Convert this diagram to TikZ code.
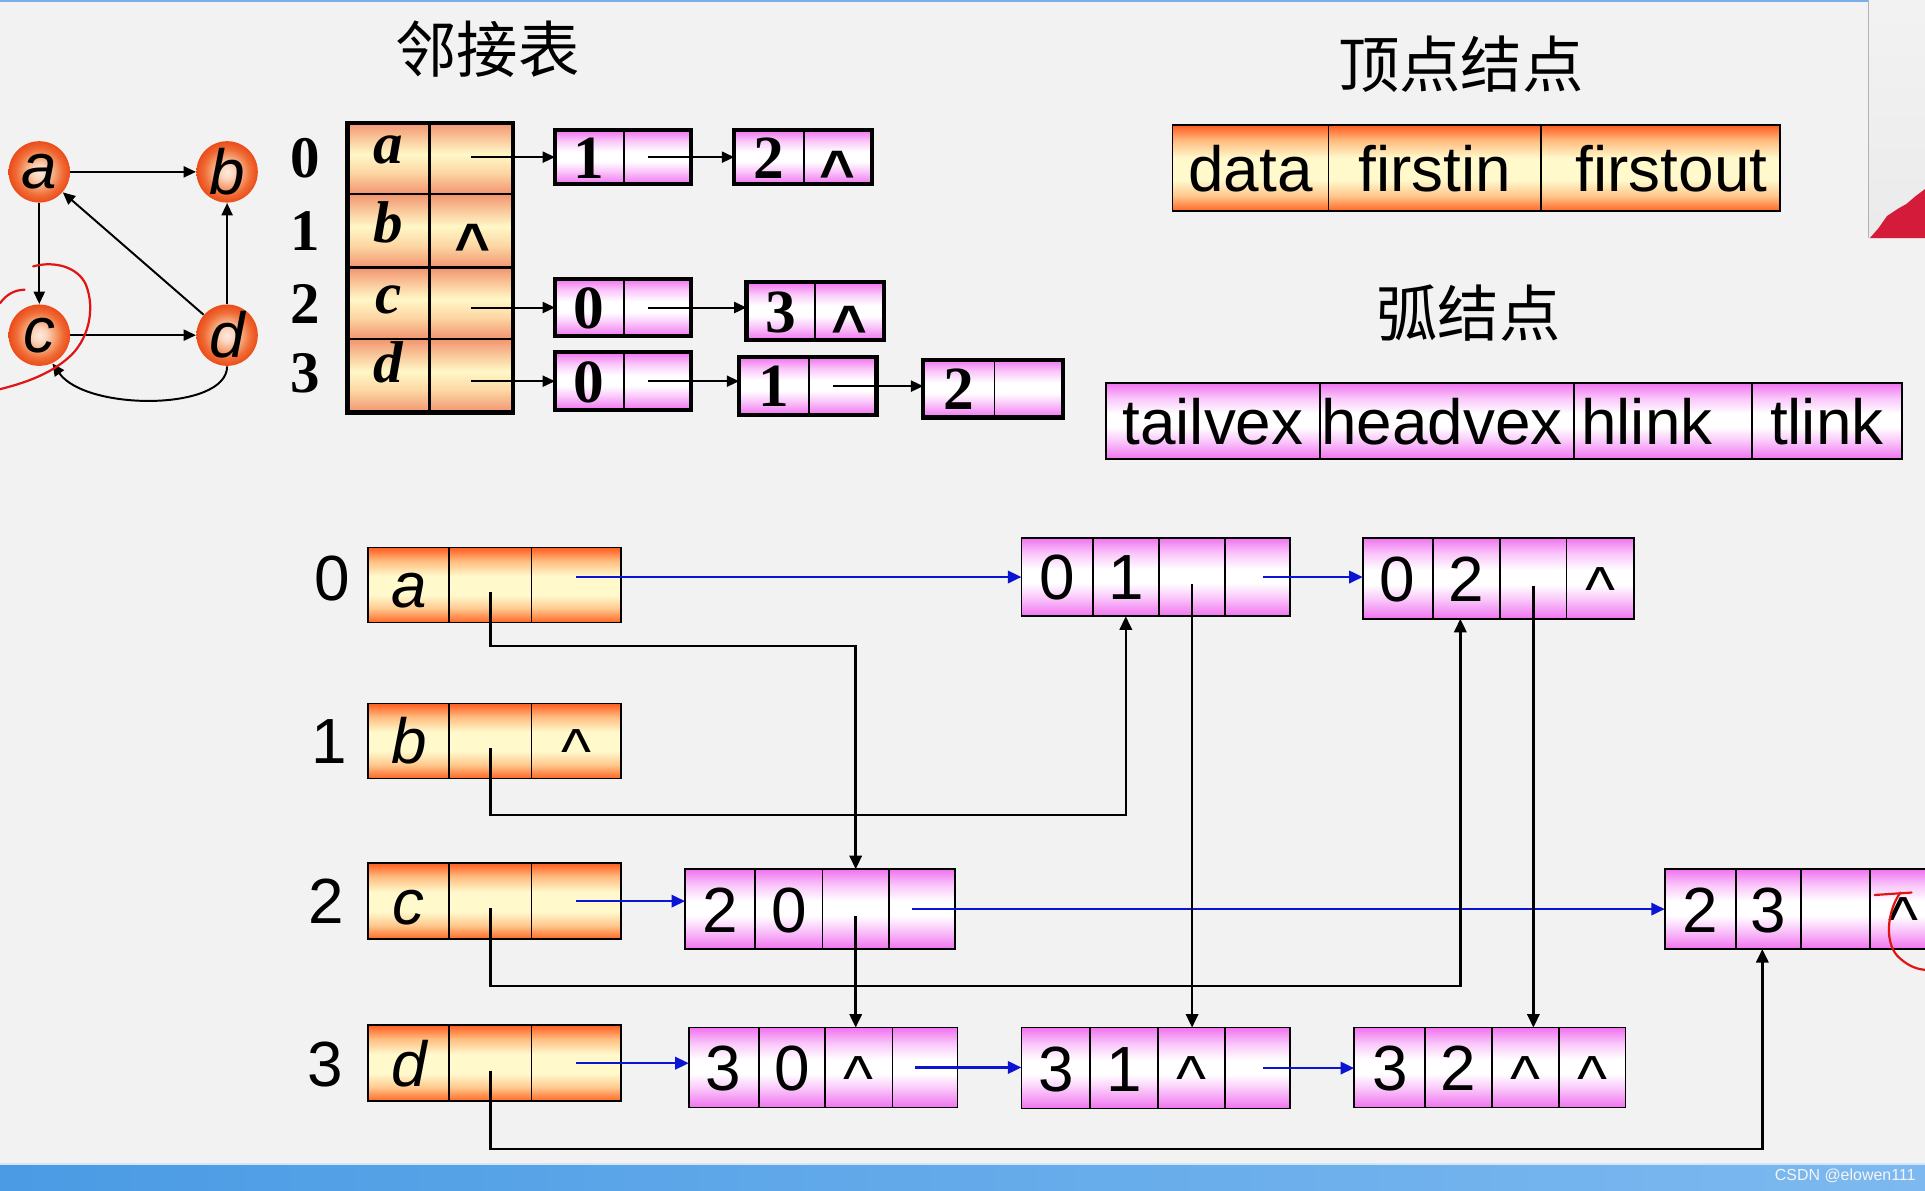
\documentclass[tikz,border=0pt]{standalone}
\usepackage{fontspec}
\setmainfont{Liberation Serif}
\newfontfamily\arialf{Liberation Sans}
\newfontfamily\cjkf{Noto Sans CJK SC}
\usetikzlibrary{arrows.meta,calc}
\definecolor{bg}{RGB}{242,242,242}
\definecolor{lnblue}{RGB}{10,20,210}
\definecolor{barblue}{RGB}{74,155,228}
\definecolor{barblue2}{RGB}{125,185,240}
\definecolor{topline}{RGB}{120,175,235}
\definecolor{camred}{RGB}{212,28,58}
\definecolor{scrib}{RGB}{225,20,20}
\pgfdeclareradialshading{vballsh}{\pgfpoint{0bp}{0bp}}{rgb(0bp)=(0.99,0.92,0.88); rgb(6bp)=(0.98,0.83,0.73); rgb(13bp)=(0.96,0.62,0.44); rgb(19bp)=(0.94,0.42,0.21); rgb(25bp)=(0.92,0.30,0.10); rgb(50bp)=(0.92,0.30,0.10)}
\pgfdeclareverticalshading{orsh}{100bp}{rgb(0bp)=(1,0.40,0.14); rgb(25bp)=(1,0.40,0.14); rgb(34bp)=(1,0.78,0.55); rgb(43bp)=(1,0.975,0.80); rgb(56bp)=(1,0.975,0.80); rgb(66bp)=(1,0.74,0.50); rgb(75bp)=(1,0.36,0.12); rgb(100bp)=(1,0.36,0.12)}
\pgfdeclareverticalshading{pksh}{100bp}{rgb(0bp)=(0.94,0.45,0.94); rgb(25bp)=(0.94,0.45,0.94); rgb(37bp)=(0.98,0.78,0.98); rgb(46bp)=(1,1,1); rgb(55bp)=(1,1,1); rgb(65bp)=(0.98,0.78,0.98); rgb(75bp)=(0.94,0.45,0.94); rgb(100bp)=(0.94,0.45,0.94)}
\pgfdeclareverticalshading{salsh}{100bp}{rgb(0bp)=(0.95,0.58,0.44); rgb(25bp)=(0.95,0.58,0.44); rgb(40bp)=(0.99,0.84,0.64); rgb(53bp)=(1,0.97,0.78); rgb(63bp)=(0.98,0.80,0.62); rgb(75bp)=(0.95,0.58,0.44); rgb(100bp)=(0.95,0.58,0.44)}
\newcommand\mkcell[7]{\node[#6, minimum width={((#4)-(#2))*0.5pt}, minimum height={((#5)-(#3))*0.5pt}] (#1) at ({((#2)+(#4))/2},{((#3)+(#5))/2}) {#7};}
\newcommand\nilb{\raisebox{-4pt}{\textasciicircum}}
\newcommand\nilt{{\arialf\fontsize{25}{25}\selectfont\raisebox{-6.5pt}{\textasciicircum}}}
\begin{document}
\begin{tikzpicture}[x=0.5pt,y=-0.5pt,
  base/.style={draw=black, line width=0.7pt, inner sep=0pt, outer sep=0pt},
  pcell/.style={base, shading=pksh,
    font=\arialf\fontsize{26}{26}\selectfont, text height=18.7pt, text depth=0pt},
  ocell/.style={base, shading=orsh,
    font=\arialf\fontsize{26}{26}\selectfont, text height=18.7pt, text depth=0pt},
  vcell/.style={ocell, font=\arialf\itshape\fontsize{26}{26}\selectfont},
  tcell/.style={base, line width=1pt, shading=salsh,
    font=\bfseries\itshape\fontsize{24}{24}\selectfont, text height=16.3pt, text depth=0pt},
  qcell/.style={base, shading=pksh,
    font=\bfseries\fontsize{25}{25}\selectfont, text height=17pt, text depth=0pt},
  gnode/.style={circle, minimum size=25pt, inner sep=0pt, shading=vballsh,
    font=\arialf\itshape\fontsize{26}{26}\selectfont},
  idx/.style={inner sep=0pt, font=\bfseries\fontsize{24}{24}\selectfont},
  lbl/.style={inner sep=0pt, font=\arialf\fontsize{26}{26}\selectfont},
  ttl/.style={inner sep=0pt, font=\cjkf\fontsize{25}{25}\selectfont},
  gar/.style={line width=0.8pt, -{Triangle[length=5pt,width=4.5pt]}},
  blk/.style={line width=1pt, -{Triangle[length=5.5pt,width=5pt]}},
  blu/.style={draw=lnblue, line width=1pt, -{Triangle[length=5.5pt,width=5pt]}},
  thick box/.style={draw=black, line width=1.7pt},
  scr/.style={draw=scrib, line width=0.9pt, line cap=round}
]
\useasboundingbox (0,0) rectangle (1568,970);
\clip (0,0) rectangle (1568,970);
\fill[bg] (0,0) rectangle (1568,970);
% screen artefacts
\fill[topline] (0,0) rectangle (1522,2);
\shade[top color=white!90!gray, bottom color=white!84!gray] (1522,0) rectangle (1568,194);
\draw[gray!60, line width=0.5pt] (1522,0) -- (1522,194);
\fill[camred] (1523,194) -- (1530,186) -- (1537,176) -- (1546,170) -- (1553,166) -- (1560,160) -- (1568,154) -- (1568,194) -- cycle;
\shade[left color=barblue, right color=barblue2] (0,948) rectangle (1568,970);
\fill[white!75!barblue] (0,947) rectangle (1568,949);
\node[inner sep=0pt, text=white!92!gray, font=\arialf\fontsize{6.5}{7}\selectfont] (wm) at (1503,958) {CSDN @elowen111};

% ---------------- titles ----------------
\node[ttl] (t1) at (397,40) {邻接表};
\node[ttl] (t2) at (1190,52) {顶点结点};
\node[ttl] (t3) at (1196,255) {弧结点};

% ---------------- graph ----------------
\node[gnode] (ga) at (32,140) {a};
\node[gnode] (gb) at (185,140) {b};
\node[gnode] (gc) at (32,273) {c};
\node[gnode] (gd) at (185,273) {d};
\draw[gar] (ga) -- (gb);
\draw[gar] (ga) -- (gc);
\draw[gar] (gd) -- (ga);
\draw[gar] (gd) -- (gb);
\draw[gar] (gc) -- (gd);
\draw[gar] (gd.south) .. controls (185,335) and (70,335) .. (gc.-65);
% red annotation
\draw[scr] (27,217) .. controls (45,212) and (64,218) .. (70,232) .. controls (78,252) and (72,278) .. (55,292) .. controls (40,305) and (20,312) .. (0,317);
\draw[scr] (0,247) .. controls (5,240) and (12,236) .. (20,236);

% ---------------- adjacency list ----------------
\node[idx] (i0) at (249,129) {0};
\node[idx] (i1) at (249,188) {1};
\node[idx] (i2) at (249,248) {2};
\node[idx] (i3) at (249,304) {3};
\mkcell{T0a}{283}{100}{350}{158}{tcell}{\raisebox{6pt}{a}}
\mkcell{T0b}{350}{100}{418}{158}{tcell}{}
\mkcell{T1a}{283}{158}{350}{218}{tcell}{\raisebox{3.5pt}{b}}
\mkcell{T1b}{350}{158}{418}{218}{tcell}{\nilt}
\mkcell{T2a}{283}{218}{350}{276}{tcell}{\raisebox{4pt}{c}}
\mkcell{T2b}{350}{218}{418}{276}{tcell}{}
\mkcell{T3a}{283}{276}{350}{336}{tcell}{\raisebox{5.5pt}{d}}
\mkcell{T3b}{350}{276}{418}{336}{tcell}{}
\draw[thick box] (T0a.north west) rectangle (T3b.south east);

\mkcell{Q0a}{452}{106}{508}{150}{qcell}{1}
\mkcell{Q0b}{508}{106}{563}{150}{qcell}{}
\mkcell{Q1a}{598}{106}{655}{150}{qcell}{2}
\mkcell{Q1b}{655}{106}{710}{150}{qcell}{\nilt}
\mkcell{Q2a}{452}{227}{508}{274}{qcell}{0}
\mkcell{Q2b}{508}{227}{563}{274}{qcell}{}
\mkcell{Q3a}{608}{230}{664}{277}{qcell}{3}
\mkcell{Q3b}{664}{230}{720}{277}{qcell}{\nilt}
\mkcell{Q4a}{452}{287}{508}{334}{qcell}{0}
\mkcell{Q4b}{508}{287}{563}{334}{qcell}{}
\mkcell{Q5a}{602}{291}{659}{338}{qcell}{1}
\mkcell{Q5b}{659}{291}{714}{338}{qcell}{}
\mkcell{Q6a}{752}{293}{810}{340}{qcell}{2}
\mkcell{Q6b}{810}{293}{866}{340}{qcell}{}
\foreach \q in {0,...,6}{\draw[thick box] (Q\q a.north west) rectangle (Q\q b.south east);}

\draw[gar] (T0b.center |- Q0a.west) -- (Q0a.west);
\draw[gar] (T2b.center |- Q2a.west) -- (Q2a.west);
\draw[gar] (T3b.center |- Q4a.west) -- (Q4a.west);
\draw[gar] ([xshift=-4pt]Q0b.center) -- (Q0b.center -| Q1a.west);
\draw[gar] ([xshift=-4pt]Q2b.center) -- (Q2b.center -| Q3a.west);
\draw[gar] ([xshift=-4pt]Q4b.center) -- (Q4b.center -| Q5a.west);
\draw[gar] ([xshift=-4pt]Q5b.center) -- (Q5b.center -| Q6a.west);

% ---------------- node formats ----------------
\mkcell{VB1}{955}{102}{1082}{172}{ocell}{data}
\mkcell{VB2}{1082}{102}{1255}{172}{ocell}{firstin}
\mkcell{VB3}{1255}{102}{1450}{172}{ocell}{\hspace*{9pt}firstout}
\mkcell{AB1}{901}{312}{1075}{374}{pcell}{tailvex}
\mkcell{AB2}{1075}{312}{1282}{374}{pcell}{headvex\hspace*{4pt}}
\mkcell{AB3}{1282}{312}{1427}{374}{pcell}{hlink\hspace*{13pt}}
\mkcell{AB4}{1427}{312}{1549}{374}{pcell}{tlink}

% ---------------- orthogonal list ----------------
\node[lbl] (L0) at (271,471) {0};
\node[lbl] (L1) at (268,604) {1};
\node[lbl] (L2) at (266,734) {2};
\node[lbl] (L3) at (265,867) {3};

\mkcell{V0a}{300}{446}{366}{507}{vcell}{a}
\mkcell{V0b}{366}{446}{433}{507}{vcell}{}
\mkcell{V0c}{433}{446}{506}{507}{vcell}{}
\mkcell{V1a}{300}{573}{366}{634}{vcell}{b}
\mkcell{V1b}{366}{573}{433}{634}{vcell}{}
\mkcell{V1c}{433}{573}{506}{634}{ocell}{\nilb}
\mkcell{V2a}{300}{703}{366}{765}{vcell}{c}
\mkcell{V2b}{366}{703}{433}{765}{vcell}{}
\mkcell{V2c}{433}{703}{506}{765}{vcell}{}
\mkcell{V3a}{300}{835}{366}{897}{vcell}{d}
\mkcell{V3b}{366}{835}{433}{897}{vcell}{}
\mkcell{V3c}{433}{835}{506}{897}{vcell}{}

\mkcell{A01a}{832}{438}{890}{502}{pcell}{0}
\mkcell{A01b}{890}{438}{944}{502}{pcell}{1}
\mkcell{A01c}{944}{438}{998}{502}{pcell}{}
\mkcell{A01d}{998}{438}{1051}{502}{pcell}{}
\mkcell{A02a}{1110}{438}{1167}{504}{pcell}{0}
\mkcell{A02b}{1167}{438}{1222}{504}{pcell}{2}
\mkcell{A02c}{1222}{438}{1276}{504}{pcell}{}
\mkcell{A02d}{1276}{438}{1331}{504}{pcell}{\nilb}
\mkcell{A20a}{558}{708}{615}{773}{pcell}{2}
\mkcell{A20b}{615}{708}{670}{773}{pcell}{0}
\mkcell{A20c}{670}{708}{724}{773}{pcell}{}
\mkcell{A20d}{724}{708}{778}{773}{pcell}{}
\mkcell{A23a}{1356}{708}{1414}{773}{pcell}{2}
\mkcell{A23b}{1414}{708}{1467}{773}{pcell}{3}
\mkcell{A23c}{1467}{708}{1523}{773}{pcell}{}
\mkcell{A23d}{1523}{708}{1578}{773}{pcell}{\nilb}
\mkcell{A30a}{561}{837}{618}{902}{pcell}{3}
\mkcell{A30b}{618}{837}{672}{902}{pcell}{0}
\mkcell{A30c}{672}{837}{727}{902}{pcell}{\nilb}
\mkcell{A30d}{727}{837}{780}{902}{pcell}{}
\mkcell{A31a}{832}{837}{888}{903}{pcell}{3}
\mkcell{A31b}{888}{837}{943}{903}{pcell}{1}
\mkcell{A31c}{943}{837}{998}{903}{pcell}{\nilb}
\mkcell{A31d}{998}{837}{1051}{903}{pcell}{}
\mkcell{A32a}{1103}{837}{1161}{902}{pcell}{3}
\mkcell{A32b}{1161}{837}{1215}{902}{pcell}{2}
\mkcell{A32c}{1215}{837}{1270}{902}{pcell}{\nilb}
\mkcell{A32d}{1270}{837}{1324}{902}{pcell}{\nilb}

% tail-link chains (blue)
\draw[blu] (V0c.center |- A01a.west) -- (A01a.west);
\draw[blu] ([xshift=2pt]A01d.center) -- (A01d.center -| A02a.west);
\draw[blu] (V2c.center) -- (V2c.center -| A20a.west);
\draw[blu] ([xshift=-4pt]A20d.center) -- (A20d.center -| A23a.west);
\draw[blu] (V3c.center) -- (V3c.center -| A30a.west);
\draw[blu] ([xshift=-4pt]A30d.center) -- (A30d.center -| A31a.west);
\draw[blu] ([xshift=2pt]A31d.center) -- (A31d.center -| A32a.west);

% head-link chains (black)
\coordinate (J0) at (0,526);
\coordinate (J1) at (0,664);
\coordinate (J2) at (0,803);
\coordinate (J3) at (0,936);
\draw[blk] ([yshift=-3pt]V0b.center) -- (V0b.center |- J0) -| (A20c.north);
\draw[blk] ([yshift=-3pt]V1b.center) -- (V1b.center |- J1) -| (A01b.south);
\draw[blk] ([yshift=-3pt]V2b.center) -- (V2b.center |- J2) -| ([xshift=-2.5pt]A02b.south);
\draw[blk] ([yshift=-3pt]V3b.center) -- (V3b.center |- J3) -| ([xshift=-2.5pt]A23b.south);
\draw[blk] ([yshift=-3pt]A20c.center) -- (A20c.center |- A30c.north);
\draw[blk] ([yshift=-3pt]A01c.center) -- (A01c.center |- A31c.north);
\draw[blk] ([yshift=-3pt]A02c.center) -- (A02c.center |- A32c.north);

% red annotation on the right
\draw[scr] (1527,729) -- (1557,727);
\draw[scr] (1548,727) .. controls (1537,742) and (1534,770) .. (1548,781) .. controls (1555,787) and (1562,790) .. (1570,790);
\end{tikzpicture}
\end{document}
